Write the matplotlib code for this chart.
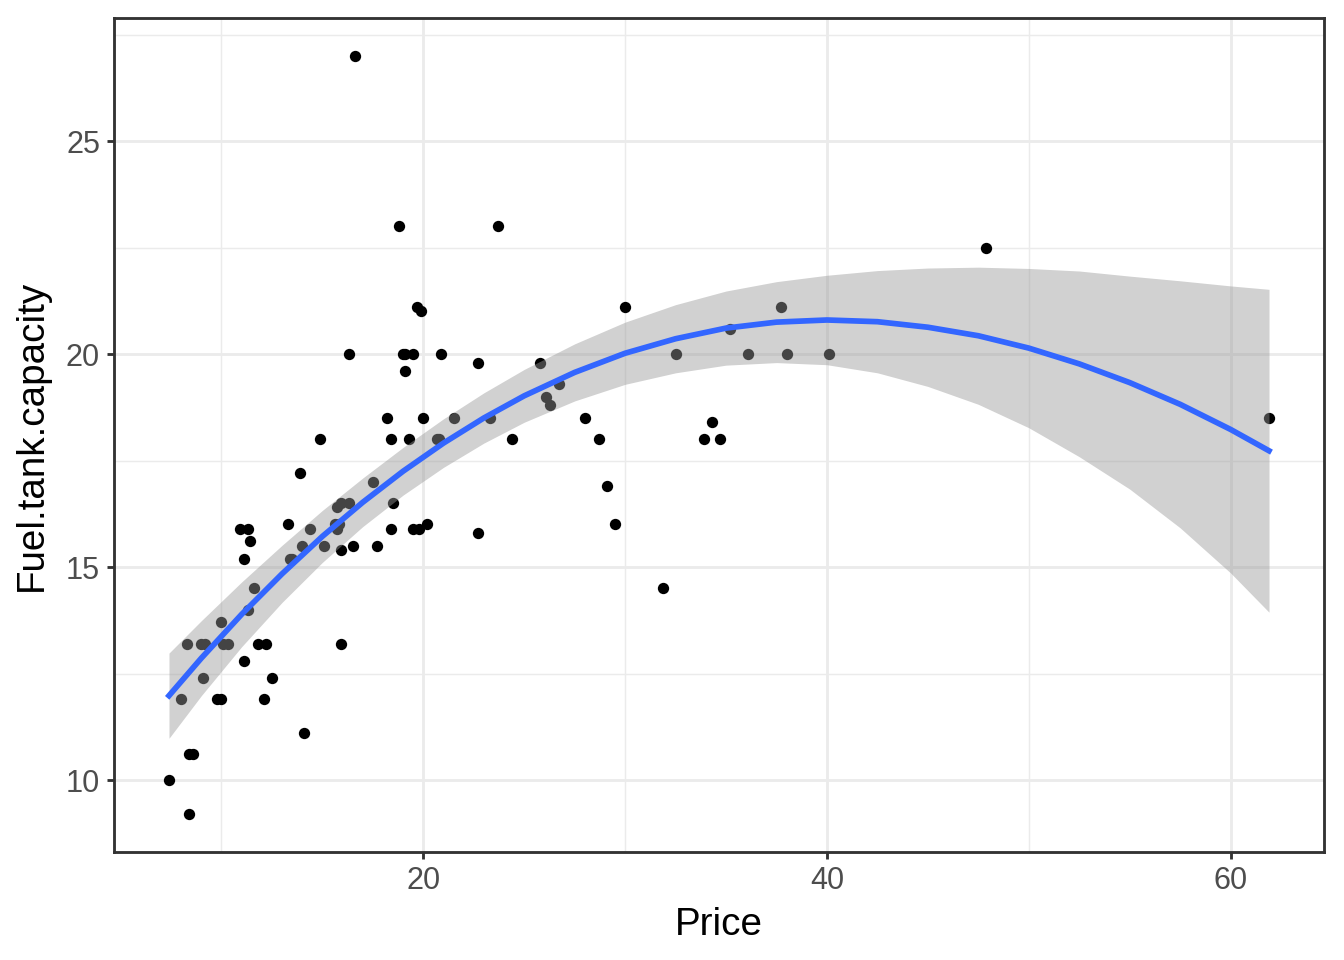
import numpy as np
import matplotlib
matplotlib.use("Agg")
import matplotlib.pyplot as plt
from matplotlib.ticker import FixedLocator

# Cars93: Price vs Fuel.tank.capacity
price = [15.9, 33.9, 29.1, 37.7, 30.0, 15.7, 20.8, 23.7, 26.3, 34.7, 40.1, 13.4, 11.4, 15.1,
         15.9, 16.3, 16.6, 18.8, 38.0, 18.4, 15.8, 29.5, 9.2, 11.3, 13.3, 19.0, 15.6, 25.8,
         12.2, 19.3, 7.4, 10.1, 11.3, 15.9, 14.0, 19.9, 20.2, 20.9, 8.4, 12.5, 19.8, 12.1,
         17.5, 8.0, 10.0, 10.0, 13.9, 47.9, 28.0, 35.2, 34.3, 36.1, 8.3, 11.6, 16.5, 19.1,
         32.5, 31.9, 61.9, 14.1, 14.9, 10.3, 26.1, 11.8, 15.7, 19.1, 21.5, 13.5, 16.3, 19.5,
         20.7, 14.4, 9.0, 11.1, 17.7, 18.5, 24.4, 28.7, 11.1, 8.4, 10.9, 19.5, 8.6, 9.8,
         18.4, 18.2, 22.7, 9.1, 19.7, 20.0, 23.3, 22.7, 26.7]
fuel = [13.2, 18.0, 16.9, 21.1, 21.1, 16.4, 18.0, 23.0, 18.8, 18.0, 20.0, 15.2, 15.6, 15.5,
        16.5, 20.0, 27.0, 23.0, 20.0, 18.0, 16.0, 16.0, 13.2, 14.0, 16.0, 20.0, 16.0, 19.8,
        13.2, 18.0, 10.0, 13.2, 15.9, 15.4, 15.5, 21.0, 16.0, 20.0, 10.6, 12.4, 15.9, 11.9,
        17.0, 11.9, 13.7, 11.9, 17.2, 22.5, 18.5, 20.6, 18.4, 20.0, 13.2, 14.5, 15.5, 19.6,
        20.0, 14.5, 18.5, 11.1, 18.0, 13.2, 19.0, 13.2, 15.9, 20.0, 18.5, 15.2, 16.5, 20.0,
        18.0, 15.9, 13.2, 15.2, 15.5, 16.5, 18.0, 18.0, 12.8, 9.2, 15.9, 15.9, 10.6, 11.9,
        15.9, 18.5, 19.8, 12.4, 21.1, 18.5, 18.5, 15.8, 19.3]

# smoother and its confidence band
smooth_x = [7.4, 9, 11, 13, 15, 17, 19, 21, 23, 25, 27.5, 30, 32.5, 35, 37.5, 40,
            42.5, 45, 47.5, 50, 52.5, 55, 57.5, 60, 61.9]
smooth_fit = [11.98, 12.86, 13.89, 14.84, 15.72, 16.52, 17.25, 17.91, 18.50, 19.02,
              19.57, 20.02, 20.36, 20.61, 20.75, 20.80, 20.76, 20.63, 20.43, 20.14,
              19.77, 19.33, 18.82, 18.23, 17.73]
smooth_upper = [12.98, 13.74, 14.65, 15.51, 16.33, 17.09, 17.81, 18.48, 19.09, 19.64,
                20.24, 20.75, 21.16, 21.48, 21.70, 21.85, 21.96, 22.02, 22.04, 22.01,
                21.95, 21.83, 21.72, 21.60, 21.52]
smooth_lower = [10.98, 11.98, 13.13, 14.17, 15.11, 15.95, 16.69, 17.34, 17.91, 18.40,
                18.90, 19.29, 19.56, 19.74, 19.80, 19.75, 19.56, 19.24, 18.82, 18.27,
                17.59, 16.83, 15.92, 14.86, 13.94]

x_ticks = [20, 40, 60]
y_ticks = [10, 15, 20, 25]
x_minor = [10, 30, 50]
y_minor = [12.5, 17.5, 22.5, 27.5]

plt.rcParams["font.family"] = ["Liberation Sans", "DejaVu Sans"]

fig = plt.figure(figsize=(7, 5), dpi=192)
ax = fig.add_axes([114 / 1344, 1 - 852 / 960, (1324 - 114) / 1344, (852 - 18) / 960])

xmin, xmax = min(price), max(price)
ymin, ymax = min(fuel), max(fuel)
ax.set_xlim(xmin - 0.05 * (xmax - xmin), xmax + 0.05 * (xmax - xmin))
ax.set_ylim(ymin - 0.05 * (ymax - ymin), ymax + 0.05 * (ymax - ymin))

grid_c = "#EBEBEB"
for v in x_minor:
    ax.axvline(v, color=grid_c, lw=0.53, zorder=0)
for v in y_minor:
    ax.axhline(v, color=grid_c, lw=0.53, zorder=0)
for v in x_ticks:
    ax.axvline(v, color=grid_c, lw=1.07, zorder=0)
for v in y_ticks:
    ax.axhline(v, color=grid_c, lw=1.07, zorder=0)

ax.scatter(price, fuel, s=18, color="black", linewidths=0, zorder=2)
ax.fill_between(smooth_x, smooth_lower, smooth_upper, color="#999999", alpha=0.45,
                linewidth=0, zorder=3)
ax.plot(smooth_x, smooth_fit, color="#3366FF", lw=2.13, zorder=4,
        solid_joinstyle="round")

ax.xaxis.set_major_locator(FixedLocator(x_ticks))
ax.yaxis.set_major_locator(FixedLocator(y_ticks))
ax.tick_params(axis="both", length=2.75, width=1.07, color="#333333",
               labelcolor="#4D4D4D", labelsize=11.5, pad=2.5)
for s in ax.spines.values():
    s.set_color("#333333")
    s.set_linewidth(1.07)
    s.set_zorder(5)

ax.set_xlabel("Price", fontsize=14.5, color="black", labelpad=4)
ax.set_ylabel("Fuel.tank.capacity", fontsize=14.5, color="black", labelpad=6)

fig.savefig("out.png", dpi=192)
